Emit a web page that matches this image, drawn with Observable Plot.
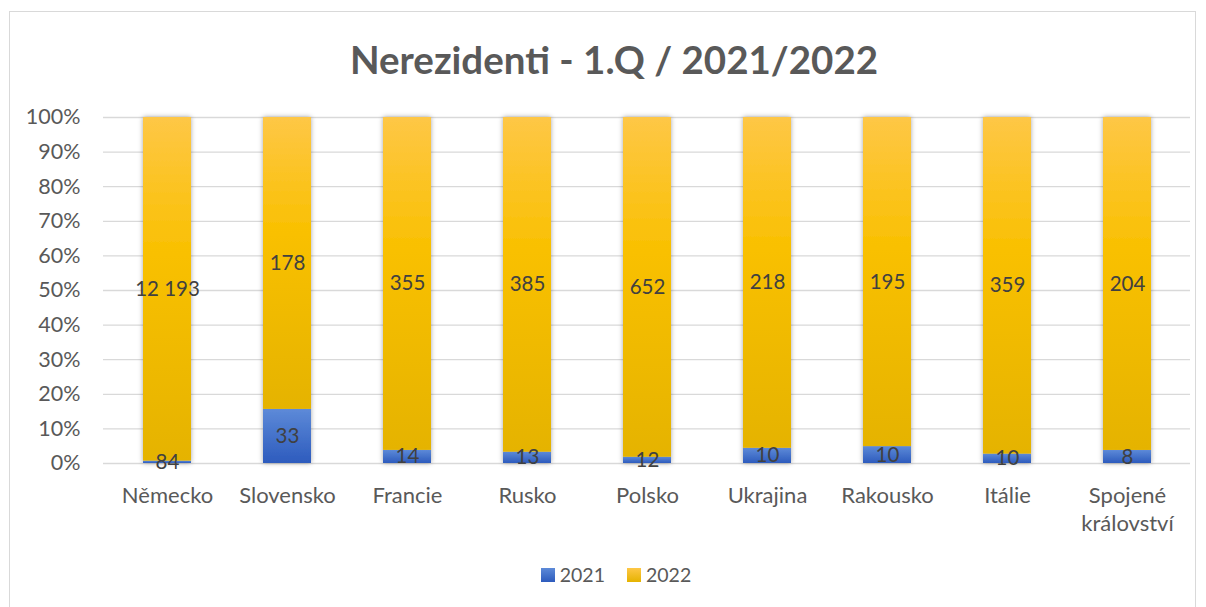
<!DOCTYPE html>
<html>
<head>
<meta charset="utf-8">
<script src="https://cdn.jsdelivr.net/npm/d3@7"></script>
<script src="https://cdn.jsdelivr.net/npm/@observablehq/plot@0.6"></script>
<style>
  html, body { margin: 0; padding: 0; background: #fff; }
  body { width: 1206px; height: 607px; position: relative; overflow: hidden; font-family: Lato, "Open Sans", sans-serif; }
  #frame { position: absolute; left: 9px; top: 11px; width: 1187px; height: 600px; border: 1px solid #d9d9d9; box-sizing: border-box; }
  #title { position: absolute; left: 11px; top: 36px; width: 1206px; text-align: center; font-size: 38.5px; font-weight: bold; color: #595959; font-family: Lato, "Open Sans", sans-serif; }
  #chart { position: absolute; left: 0; top: 100px; }
  #legend { position: absolute; left: 13px; top: 563px; width: 1206px; display: flex; justify-content: center; align-items: center; font-size: 19.5px; color: #595959; }
  .sw { display: inline-block; width: 14px; height: 14px; margin-right: 5px; }
  .item { display: flex; align-items: center; margin: 0 11px; }
</style>
</head>
<body>
<div id="frame"></div>
<div id="title">Nerezidenti - 1.Q / 2021/2022</div>
<div id="chart"></div>
<div id="legend"></div>
<script>
const countries = ["Německo", "Slovensko", "Francie", "Rusko", "Polsko", "Ukrajina", "Rakousko", "Itálie", "Spojené království"];
const years = ["2021", "2022"];
const values2021 = [84, 33, 14, 13, 12, 10, 10, 10, 8];
const values2022 = [12193, 178, 355, 385, 652, 218, 195, 359, 204];
const yTicks = [0, 0.1, 0.2, 0.3, 0.4, 0.5, 0.6, 0.7, 0.8, 0.9, 1];
const xLabels = ["Německo", "Slovensko", "Francie", "Rusko", "Polsko", "Ukrajina", "Rakousko", "Itálie", "Spojené\nkrálovství"];

const data = [];
countries.forEach((c, i) => data.push({country: c, year: "2021", value: values2021[i]}));
countries.forEach((c, i) => data.push({country: c, year: "2022", value: values2022[i]}));

const fmt = d3.formatLocale({decimal: ",", thousands: " ", grouping: [3], currency: ["", ""]}).format(",d");

const stackOpts = {x: "country", y: "value", z: "year", offset: "normalize"};

const plot = Plot.plot({
  width: 1206,
  height: 440,
  marginLeft: 103,
  marginRight: 16,
  marginTop: 17,
  marginBottom: 77,
  style: {fontFamily: "Lato, 'Open Sans', sans-serif", fontSize: "18px", color: "#595959", background: "transparent", overflow: "visible"},
  x: {domain: countries, paddingInner: 0.6, paddingOuter: 0.3, label: null},
  y: {domain: [0, 1], label: null},
  color: {domain: years, range: ["url(#g2021)", "url(#g2022)"]},
  marks: [
    Plot.gridY(yTicks, {stroke: "#d9d9d9", strokeOpacity: 1, strokeWidth: 1.3}),
    Plot.axisY(yTicks, {tickSize: 0, tickPadding: 23, fontSize: 21.5, fill: "#595959", tickFormat: d => Math.round(d * 100) + "%", label: null}),
    Plot.axisX({tickSize: 0, tickPadding: 20, fontSize: 22, lineHeight: 1.27, fill: "#595959", label: null,
      tickFormat: c => xLabels[countries.indexOf(c)]}),
    Plot.barY(data, Plot.stackY({...stackOpts, fill: "year"})),
    Plot.text(data, Plot.stackY({...stackOpts, text: d => fmt(d.value), fill: "#404040", fontSize: 20.5, stroke: null}))
  ]
});

const svg = d3.select(plot);
const defs = svg.insert("defs", ":first-child");
const g1 = defs.append("linearGradient").attr("id", "g2021").attr("x1", 0).attr("y1", 0).attr("x2", 0).attr("y2", 1);
g1.append("stop").attr("offset", "0%").attr("stop-color", "#5d8ad8");
g1.append("stop").attr("offset", "100%").attr("stop-color", "#2d5bbd");
const g2 = defs.append("linearGradient").attr("id", "g2022").attr("x1", 0).attr("y1", 0).attr("x2", 0).attr("y2", 1);
g2.append("stop").attr("offset", "0%").attr("stop-color", "#fec746");
g2.append("stop").attr("offset", "40%").attr("stop-color", "#f9c000");
g2.append("stop").attr("offset", "100%").attr("stop-color", "#e5b300");
const f = defs.append("filter").attr("id", "shadow").attr("x", "-20%").attr("y", "-5%").attr("width", "140%").attr("height", "110%");
f.append("feDropShadow").attr("dx", 0).attr("dy", 0).attr("stdDeviation", 2.5).attr("flood-color", "#000").attr("flood-opacity", 0.35);
svg.selectAll("g[aria-label='bar']").attr("filter", "url(#shadow)");

document.getElementById("chart").appendChild(plot);

const legend = d3.select("#legend");
const legendFills = {"2021": "linear-gradient(#5d8ad8, #2d5bbd)", "2022": "linear-gradient(#fec746, #e5b300)"};
years.forEach(y => {
  const it = legend.append("div").attr("class", "item");
  it.append("span").attr("class", "sw").style("background", legendFills[y]);
  it.append("span").text(y);
});
</script>
</body>
</html>
